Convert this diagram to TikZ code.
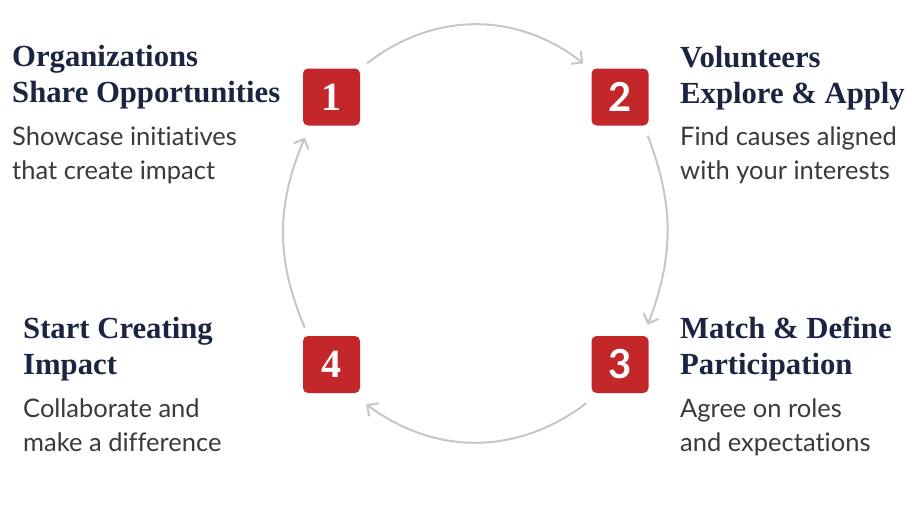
\documentclass[tikz,border=0pt]{standalone}
\usepackage{fontspec}
\setmainfont{Liberation Serif}
\setsansfont{Lato}[Ligatures={NoCommon}]
\usetikzlibrary{arrows.meta, positioning}
\definecolor{stepred}{HTML}{C4272A}
\definecolor{navy}{HTML}{1B2440}
\definecolor{bodygray}{HTML}{3A3A3A}
\definecolor{ringgray}{HTML}{C6C6C8}
\tikzset{
  numbox/.style={rectangle, rounded corners=5pt, minimum size=57pt, inner sep=0pt, fill=stepred, text=white, font=\rmfamily\bfseries\fontsize{40}{40}\selectfont},
  numsans/.style={numbox, font=\sffamily\bfseries\fontsize{40}{40}\selectfont},
  steptitle/.style={anchor=north west, inner sep=0pt, align=left, text=navy, font=\rmfamily\bfseries\fontsize{30.7}{36}\selectfont},
  stepdesc/.style={anchor=north west, inner sep=0pt, align=left, text=bodygray, font=\sffamily\fontsize{25.5}{34}\selectfont},
  ring/.style={draw=ringgray, line width=2pt, -{Straight Barb[length=8pt,width=16pt]}}
}
\begin{document}
\begin{tikzpicture}[x=1pt, y=1pt]
    \useasboundingbox (0,0) rectangle (920,-506);
    % numbered steps
    \node (n1) [numbox] at (331.5,-97) {1};
    \node (n2) [numsans] at (620,-97) {2};
    \node (n3) [numsans] at (620,-364.5) {3};
    \node (n4) [numbox] at (331.5,-364.5) {4};

    % texts
    \node (t1) [steptitle] at (12,-45) {Organizations\\Share Opportunities};
    \node (d1) [stepdesc] at (12,-127) {Showcase initiatives\\that create impact};
    \node (t2) [steptitle] at (680,-46) {Volunteers\\Explore \& Apply};
    \node (d2) [stepdesc] at (680,-127) {Find causes aligned\\with your interests};
    \node (t3) [steptitle] at (680,-317) {Match \& Define\\Participation};
    \node (d3) [stepdesc] at (680,-399) {Agree on roles\\and expectations};
    \node (t4) [steptitle] at (23,-317) {Start Creating\\Impact};
    \node (d4) [stepdesc] at (23,-399) {Collaborate and\\make a difference};

    % cycle arrows
    \draw [ring] ([shift={(7,5)}]n1.north east) to[bend left=38] ([shift={(-8,5)}]n2.north west);
    \draw [ring] ([shift={(-1,-10)}]n2.south east) to[bend left=21] ([shift={(-1,11)}]n3.north east);
    \draw [ring] ([shift={(-5,-10)}]n3.south west) to[bend left=37] ([shift={(6,-11)}]n4.south east);
    \draw [ring] ([shift={(2,8)}]n4.north west) to[bend left=23] ([shift={(2,-12)}]n1.south west);
\end{tikzpicture}
\end{document}
